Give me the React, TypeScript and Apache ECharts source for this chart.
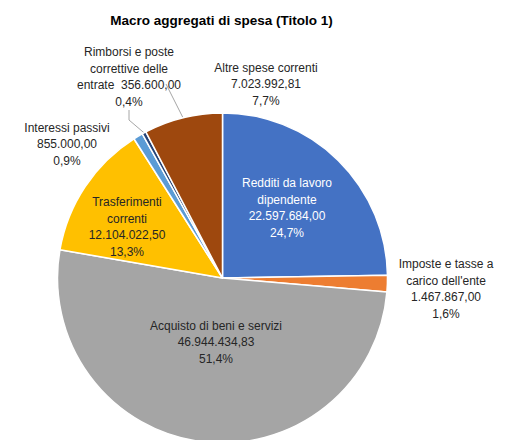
import React, { useEffect, useRef } from "react";
import * as echarts from "echarts";

const categories = [
  "Redditi da lavoro dipendente",
  "Imposte e tasse a carico dell'ente",
  "Acquisto di beni e servizi",
  "Trasferimenti correnti",
  "Interessi passivi",
  "Rimborsi e poste correttive delle entrate",
  "Altre spese correnti",
];
const values = [22597684.0, 1467867.0, 46944434.83, 12104022.5, 855000.0, 356600.0, 7023992.81];
const colors = ["#4472C4", "#ED7D31", "#A5A5A5", "#FFC000", "#5B9BD5", "#264478", "#9E480E"];
// label text lines (category part), as wrapped in the reference
const labelHeads = [
  ["Redditi da lavoro", "dipendente"],
  ["Imposte e tasse a", "carico dell'ente"],
  ["Acquisto di beni e servizi"],
  ["Trasferimenti", "correnti"],
  ["Interessi passivi"],
  ["Rimborsi e poste", "correttive delle", "entrate  "],
  ["Altre spese correnti"],
];

function fmtNum(v: number): string {
  const [i, d] = v.toFixed(2).split(".");
  return i.replace(/\B(?=(\d{3})+(?!\d))/g, ".") + "," + d;
}

const OFF = 8; // body margin

export default function App() {
  const ref = useRef<HTMLDivElement>(null);
  useEffect(() => {
    if (!ref.current) return;
    const chart = echarts.init(ref.current, undefined, { renderer: "svg" });
    const total = values.reduce((a, b) => a + b, 0);
    const insideIdx = [0, 2, 3];
    // label centre positions (page coords)
    const pos: Record<number, [number, number]> = {
      0: [287, 208],
      1: [446, 289],
      2: [216, 342],
      3: [127, 227],
      4: [67, 144],
      5: [129, 77],
      6: [266, 84],
    };
    const data = values.map((v, i) => {
      const pct = ((v / total) * 100).toFixed(1).replace(".", ",");
      const heads = labelHeads[i].slice();
      let lines: string[];
      if (i === 5) {
        lines = [heads[0], heads[1], heads[2] + fmtNum(v), pct + "%"];
      } else {
        lines = [...heads, fmtNum(v), pct + "%"];
      }
      const inside = insideIdx.includes(i);
      return {
        name: categories[i],
        value: v,
        itemStyle: { color: colors[i] },
        label: {
          show: true,
          position: inside ? "inside" : "outside",
          formatter: lines.join("\n"),
          color: i === 0 ? "#FFFFFF" : "#262626",
          align: "center",
        },
        labelLine: { show: !inside },
      };
    });
    chart.setOption({
      animation: false,
      title: {
        text: "Macro aggregati di spesa (Titolo 1)",
        left: 216.5 - OFF,
        top: 8 - OFF,
        textAlign: "center",
        textStyle: { fontFamily: "Liberation Sans", fontSize: 13.5, fontWeight: "bold", color: "#000000" },
      },
      series: [
        {
          type: "pie",
          center: [222.5 - OFF, 278 - OFF],
          radius: 165,
          startAngle: 90,
          clockwise: true,
          itemStyle: { borderColor: "#FFFFFF", borderWidth: 1.5 },
          label: {
            fontFamily: "Liberation Sans",
            fontSize: 12,
            lineHeight: 16.5,
            align: "center",
            overflow: "none",
            width: 200,
          },
          labelLine: { lineStyle: { color: "#A6A6A6", width: 1 }, length: 10, length2: 10 },
          labelLayout: (params: any) => {
            const p = pos[params.dataIndex];
            if (p) return { x: p[0] - OFF, y: p[1] - OFF, align: "center", verticalAlign: "middle" };
            return {};
          },
          data,
        },
      ],
    });
    return () => chart.dispose();
  }, []);
  return <div ref={ref} style={{ width: 502, height: 432 }} />;
}
